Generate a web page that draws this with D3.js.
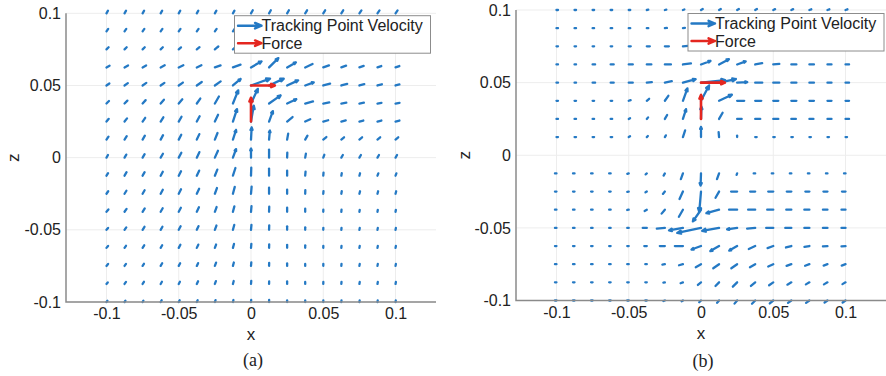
<!DOCTYPE html>
<html><head><meta charset="utf-8">
<script src="https://cdn.jsdelivr.net/npm/d3@7"></script>
<style>body{margin:0;background:#fff}svg{display:block}</style>
</head><body>
<svg id="chart" width="886" height="376"></svg>
<script>
// ---- data ----
const gridX = [-0.1,-0.0875,-0.075,-0.0625,-0.05,-0.0375,-0.025,-0.0125,0,0.0125,0.025,0.0375,0.05,0.0625,0.075,0.0875,0.1];
const gridZ = [0.1,0.0875,0.075,0.0625,0.05,0.0375,0.025,0.0125,0,-0.0125,-0.025,-0.0375,-0.05,-0.0625,-0.075,-0.0875,-0.1];
const xTicks = [-0.1,-0.05,0,0.05,0.1];
const zTicks = [-0.1,-0.05,0,0.05,0.1];
const xTickLabels = ["-0.1","-0.05","0","0.05","0.1"];
const zTickLabels = ["-0.1","-0.05","0","0.05","0.1"];
const legendLabels = ["Tracking Point Velocity","Force"];
const panelLabels = ["(a)","(b)"];
// tracking point velocity: speed (mm/s) and direction (deg, from +x toward +z), rows top (z=0.1) to bottom (z=-0.1)
const speedA = [
 [3,3,3,3,3,3,3,3,3.5,3.5,3.5,3.5,3.5,3.5,3.5,3.5,3.5],
 [3,3,3,3,3,3,3,3.5,3.5,3.5,3.5,3.5,3.5,3.5,3.5,3.5,3.5],
 [3,3,3,3,3,3.5,4.5,5,5.5,5.5,5,4.5,4.5,4,4,4,4],
 [3.5,4,4,4.5,5,5,6,8,12,13,10,8,6,5,4.5,4,4],
 [3.5,4,4.5,4.5,5,6,7,10,20,16,12,9,7,6,5,4.5,4],
 [3.5,4,4.5,5,5.5,6,8,14,16,14,10,8,6,5,4.5,4,4],
 [3.5,4,4.5,5,5.5,6,7.5,13,16,11,7,5.5,5,4.5,4,4,4],
 [3.5,4,4.5,5,5.5,6,7,10,12,9,6,4.5,4,3.5,3.5,3.5,3.5],
 [3,3.5,4,4.5,5.5,6,7.5,9,9,8,5,4,3,3,3,3,3],
 [3,4,4,4.5,5,5.5,6.5,8,8,7,5,4,3,2.5,2.5,2.5,2.5],
 [3,3.5,4,4.5,5,5.5,6,7,7,6,4,3.5,2.5,2.5,2.5,2.5,2.5],
 [3,3.5,4,4,4.5,5,5,5.5,5.5,5,4,3,2,2,2,2,2],
 [2.5,3,3.5,3.5,4,4,4.5,5,5,4.5,3.5,2.5,2,2,2,2,2],
 [2.5,2.5,3,3,3.5,3.5,3.5,4,4,3.5,3,2.5,2,2,2,2,2],
 [2.5,2.5,2.5,3,3,3,3.5,3.5,3.5,3,2.5,2,2,2,2,2,2],
 [2,2.5,2.5,2.5,2.5,3,3,3,3,2.5,2.5,2,2,2,2,2,2],
 [1.5,1.5,1.5,2,2,2,2,2,2,2,1.5,1.5,1.5,1.5,1.5,1.5,1.5]
];
const angleA = [
 [60,60,60,60,60,60,60,60,60,60,60,58,58,58,55,55,55],
 [55,55,55,55,55,55,55,55,55,55,55,55,50,50,50,50,50],
 [45,45,45,45,42,40,40,40,45,45,40,35,35,35,35,35,35],
 [30,30,30,28,25,25,20,20,30,45,30,25,20,20,20,20,20],
 [35,35,35,35,35,35,35,40,20,25,25,20,15,15,15,15,15],
 [45,45,48,50,50,55,60,68,65,35,25,15,10,10,10,10,10],
 [50,52,55,58,60,62,65,72,80,70,40,25,15,15,15,15,15],
 [55,57,60,62,63,65,68,72,87,85,80,60,40,40,40,40,40],
 [60,60,60,60,62,65,66,70,90,90,88,80,70,60,60,60,60],
 [58,60,60,62,63,65,68,72,88,90,90,85,85,80,75,70,70],
 [55,58,60,62,63,65,70,75,85,90,90,88,85,80,75,75,75],
 [50,55,58,60,62,65,70,75,85,88,90,90,88,85,80,80,80],
 [50,55,58,60,62,65,70,75,85,88,90,90,88,85,80,80,80],
 [50,55,58,60,62,65,70,75,85,88,90,90,88,85,80,80,80],
 [50,55,58,60,62,65,70,75,85,88,90,90,88,85,80,80,80],
 [50,55,58,60,62,65,70,75,85,88,90,90,88,85,80,80,80],
 [50,55,58,60,62,65,70,75,85,88,90,90,88,85,80,80,80]
];
const speedB = [
 [1.5,1.5,1.5,1.5,1.5,1.5,1.5,1.5,2,2,2,2,2,2,2,2,2],
 [1.5,1.5,1.5,1.5,1.5,1.5,2,2,2,2,2,2,2,2,2,2,2],
 [1.5,1.5,1.5,1.5,2,3,4,5,5,5,4.5,4,4,3.5,3.5,3,3],
 [1.5,1.5,2.5,3,4,4.5,6,8,10,11,9,7,6,5,4.5,4,3.5],
 [1.5,1.5,2.5,3,4,5,7,13,24,17,10,7,6,5,4.5,4,3.5],
 [1.5,1.5,1.5,1.5,2,3,6,13,17,14,7,6,5,5,4.5,4,3.5],
 [1.5,1.5,1.5,1.5,1.5,2,4.5,10,12,7,4.5,5,5,4.5,4,4,3.5],
 [1.5,1.5,1.5,1.5,1.5,1.5,2,7,10,5,1.5,1.5,1.5,1.5,1.5,1.5,1.5],
 null,
 [1.5,1.5,1.5,1.5,1.5,1.5,2.5,6,12,6,1.5,1.5,1.5,1.5,1.5,1.5,1.5],
 [1.5,1.5,1.5,1.5,1.5,1.5,3,8,20,7,6,5,5,4.5,4,4,3.5],
 [1.5,1.5,1.5,1.5,1.5,2.5,5,8,14,13,8,7,6,5,5,4.5,4],
 [1.5,1.5,1.5,1.5,1.5,4,8,14,24,17,10,8,7,6,5,4.5,4],
 [1.5,1.5,1.5,1.5,1.5,2.5,5,8,10,10,9,7,6,5.5,5,4.5,4],
 [1.5,1.5,1.5,1.5,1.5,1.5,2.5,4,6,7,7,6,5.5,5,4.5,4,4],
 [1.5,1.5,1.5,1.5,1.5,1.5,1.5,2.5,4,5,6,5.5,5,4.5,4,4,3.5],
 [1.5,1.5,1.5,1.5,1.5,1.5,1.5,1.5,2.5,3,4,4.5,4.5,4,4,3.5,3.5]
];
const angleB = [
 [0,0,0,0,0,10,15,20,30,30,30,30,25,25,20,20,20],
 [0,0,0,0,0,0,5,10,15,15,15,15,10,10,10,10,10],
 [0,0,0,0,0,0,0,5,10,15,10,5,5,0,0,0,0],
 [0,0,0,0,0,0,0,8,20,28,20,10,5,0,0,0,0],
 [0,0,0,0,0,5,12,15,6,12,3,0,0,0,0,0,0],
 [0,0,0,0,20,40,55,70,62,25,0,0,0,0,0,0,0],
 [0,0,0,0,30,50,60,72,88,60,0,0,0,0,0,0,0],
 [0,0,0,0,30,45,60,72,90,95,90,0,0,0,0,0,0],
 null,
 [180,180,180,180,200,220,240,250,268,250,250,180,180,180,180,180,180],
 [180,180,180,180,190,210,230,245,265,240,180,180,180,180,180,180,180],
 [180,180,180,180,190,210,230,240,235,195,180,180,180,180,180,180,180],
 [180,180,180,180,180,180,185,190,192,190,188,185,180,180,180,180,180],
 [180,180,180,180,180,180,180,180,200,210,210,205,200,195,190,185,185],
 [180,180,180,180,180,180,190,195,210,215,215,210,205,200,200,200,200],
 [180,180,180,180,180,180,190,200,220,225,225,220,215,210,210,210,210],
 [180,180,180,180,180,180,200,210,225,230,230,225,220,215,215,215,215]
];
// force vectors (base x, base z, components)
const forceX = [0, 0];
const forceZ = [0.05, 0.025];
const forceU = [0.0165, 0];
const forceW = [0, 0.0165];
const quiverScale = 0.0007; // data units per mm/s

// ---- drawing ----
const svg = d3.select("#chart");
const BLUE = "#2479c4", RED = "#e4261f", AX = "#8a8a8a", TXT = "#222";
const FONT = "'Liberation Sans', Arial, sans-serif";

function arrow(g, x1, y1, x2, y2, color, w, headFrac, maxHead, minHeadLen) {
  const dx = x2 - x1, dy = y2 - y1, L = Math.hypot(dx, dy);
  if (L < 0.01) return;
  const a = Math.atan2(dy, dx);
  let d = `M${x1},${y1}L${x2},${y2}`;
  if (L > minHeadLen) {
    const h = Math.min(L * headFrac, maxHead);
    const ha = 0.4;
    d += `M${x2 - h*Math.cos(a-ha)},${y2 - h*Math.sin(a-ha)}L${x2},${y2}L${x2 - h*Math.cos(a+ha)},${y2 - h*Math.sin(a+ha)}`;
  }
  g.append("path").attr("d", d).attr("fill", "none").attr("stroke", color)
    .attr("stroke-width", w).attr("stroke-linecap", "round").attr("stroke-linejoin", "round");
}

function panel(cfg) {
  const x = d3.scaleLinear().domain([-0.128, 0.128]).range([cfg.left, cfg.right]);
  const z = d3.scaleLinear().domain([-0.1, 0.1]).range([cfg.bottom, cfg.top]);
  const g = svg.append("g");
  // grid
  g.selectAll(".gx").data(xTicks).enter().append("line")
    .attr("x1", d => x(d)).attr("x2", d => x(d)).attr("y1", cfg.top).attr("y2", cfg.bottom)
    .attr("stroke", "#ededed").attr("stroke-width", 1);
  g.selectAll(".gz").data(zTicks).enter().append("line")
    .attr("x1", cfg.left).attr("x2", cfg.right).attr("y1", d => z(d)).attr("y2", d => z(d))
    .attr("stroke", "#ededed").attr("stroke-width", 1);
  // quiver
  const qg = g.append("g");
  cfg.speed.forEach((row, j) => {
    if (!row) return;
    row.forEach((s, i) => {
      const th = cfg.angle[j][i] * Math.PI / 180;
      const u = s * Math.cos(th) * quiverScale, w = s * Math.sin(th) * quiverScale;
      arrow(qg, x(gridX[i]), z(gridZ[j]), x(gridX[i] + u), z(gridZ[j] + w), BLUE, 2.3, 0.22, 4, 9);
    });
  });
  // forces
  forceX.forEach((fx, k) => {
    arrow(g, x(fx), z(forceZ[k]), x(fx + forceU[k]), z(forceZ[k] + forceW[k]), RED, 2.6, 0.18, 4, 7);
  });
  // axes
  const xa = d3.axisBottom(x).tickValues(xTicks).tickFormat((d, i) => xTickLabels[i]).tickSize(0).tickPadding(6);
  const za = d3.axisLeft(z).tickValues(zTicks).tickFormat((d, i) => zTickLabels[i]).tickSize(0).tickPadding(5);
  const gx = g.append("g").attr("transform", `translate(0,${cfg.bottom})`).call(xa);
  const gz = g.append("g").attr("transform", `translate(${cfg.left},0)`).call(za);
  [gx, gz].forEach(a => {
    a.select(".domain").remove();
    a.selectAll("text").attr("font-family", FONT).attr("font-size", 16).attr("fill", TXT);
  });
  g.append("path").attr("d", `M${cfg.left},${cfg.top}V${cfg.bottom}H${cfg.right}`)
    .attr("fill", "none").attr("stroke", AX).attr("stroke-width", 1.5);
  // axis labels
  g.append("text").attr("x", x(0)).attr("y", cfg.bottom + 38).attr("text-anchor", "middle")
    .attr("font-family", FONT).attr("font-size", 17).attr("fill", TXT).text("x");
  g.append("text").attr("transform", `translate(${cfg.zlabX},${z(0)}) rotate(-90)`).attr("text-anchor", "middle")
    .attr("dy", "0.35em").attr("font-family", FONT).attr("font-size", 17).attr("fill", TXT).text("z");
  g.append("text").attr("x", x(0) + 2).attr("y", cfg.capY).attr("text-anchor", "middle")
    .attr("font-family", "'Liberation Serif', 'Times New Roman', serif").attr("font-size", 18).attr("fill", TXT).text(cfg.label);
  // legend
  const lg = g.append("g").attr("transform", `translate(${cfg.legX},${cfg.legY})`);
  lg.append("rect").attr("x", 0).attr("y", 0).attr("width", 196).attr("height", 37.5)
    .attr("fill", "#fff").attr("stroke", "#8c8c8c").attr("stroke-width", 1);
  [BLUE, RED].forEach((c, k) => {
    const yy = 10 + k * 17.5;
    arrow(lg, 3.5, yy, 27, yy, c, 2.4, 0.35, 7, 0);
    lg.append("text").attr("x", 27).attr("y", yy + 5.8).attr("font-family", FONT).attr("font-size", 16)
      .attr("fill", TXT).text(legendLabels[k]);
  });
}

panel({left: 66, right: 436, top: 13.3, bottom: 302, speed: speedA, angle: angleA,
       zlabX: 13, capY: 366, label: panelLabels[0], legX: 234.5, legY: 15.7});
panel({left: 516, right: 886, top: 10, bottom: 300.5, speed: speedB, angle: angleB,
       zlabX: 464, capY: 367, label: panelLabels[1], legX: 688, legY: 13.5});
</script>
</body></html>
